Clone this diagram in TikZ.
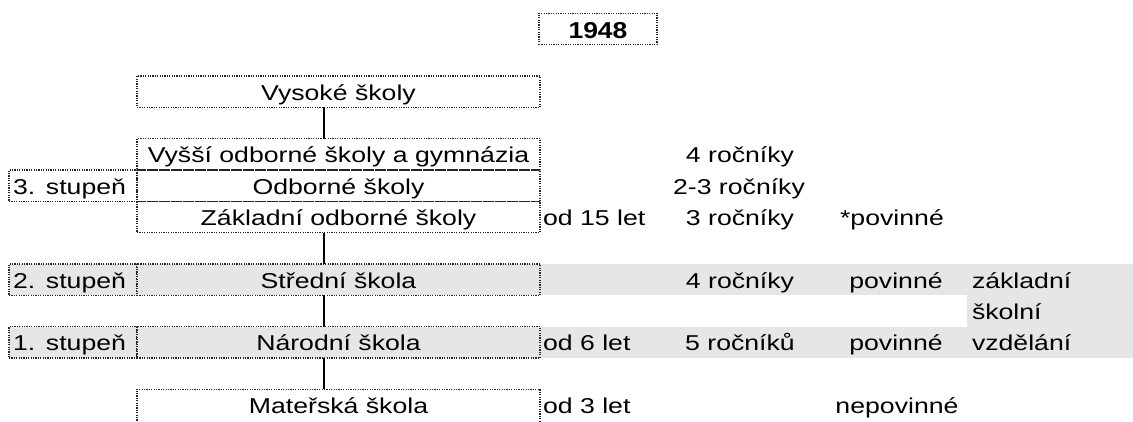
\documentclass[tikz,border=0pt]{standalone}
\usepackage{fontspec}
\setmainfont{Liberation Sans}[FakeStretch=1.24]
\newfontfamily\yearfont{Liberation Sans}[FakeStretch=1.15]
\definecolor{bandgray}{RGB}{230,230,230}
\begin{document}
\begin{tikzpicture}[x=1pt,y=-1pt,
  every node/.style={font=\fontsize{21.5}{26}\selectfont},
  border/.style={draw=black!85, line width=1.2pt, dash pattern=on 1.2pt off 1.2pt},
  cell/.style={border, inner sep=0pt, outer sep=0pt, minimum height=31.33pt,
    text height=20pt, text depth=3.33pt, anchor=north west},
  wide/.style={cell, minimum width=403pt},
  lab/.style={cell, minimum width=128pt, inner xsep=4pt, text width=120pt, align=left},
  txt/.style={inner sep=0pt, outer sep=0pt},
  conn/.style={line width=1.5pt}]
\useasboundingbox (0,0) rectangle (1133,421);
% shaded bands
\fill[bandgray] (9,264) rectangle (1133,295.3);
\fill[bandgray] (967,295.3) rectangle (1133,326.7);
\fill[bandgray] (9,326.7) rectangle (1133,358);
% year
\node[cell, minimum width=118pt, text height=22pt, text depth=3.33pt,
  font=\yearfont\fontsize{23}{27}\selectfont\bfseries] (year) at (539,13.3) {1948};
% boxes
\node[wide] (vys) at (137,76) {Vysoké školy};
\node[wide] (vyssi) at (137,138.7) {Vyšší odborné školy a gymnázia};
\node[lab] (st3) at (9,170) {3. stupeň};
\node[wide] (odb) at (137,170) {Odborné školy};
\node[wide] (zakl) at (137,201.3) {Základní odborné školy};
\node[lab, fill=bandgray] (st2) at (9,264) {2. stupeň};
\node[wide, fill=bandgray] (str) at (137,264) {Střední škola};
\node[lab, fill=bandgray] (st1) at (9,326.7) {1. stupeň};
\node[wide, fill=bandgray] (nar) at (137,326.7) {Národní škola};
\node[wide, draw=none] (mat) at (137,389.3) {Mateřská škola};
\draw[border] (mat.south west) -- (mat.north west) -- (mat.north east) -- (mat.south east);
% connectors
\coordinate (spine) at (324,0);
\draw[conn] (spine |- vys.south) -- (spine |- vyssi.north);
\draw[conn] (spine |- zakl.south) -- (spine |- str.north);
\draw[conn] (spine |- str.south) -- (spine |- nar.north);
\draw[conn] (spine |- nar.south) -- (spine |- mat.north);
% right-hand columns
\node[txt, anchor=base] (y4a) at (740,162.7) {4 ročníky};
\node[txt, anchor=base] (y23) at (739,194) {2-3 ročníky};
\node[txt, anchor=base west] (age15) at (543,225.3) {od 15 let};
\node[txt, anchor=base] (y3) at (740,225.3) {3 ročníky};
\node[txt, anchor=base] (pov0) at (892,225.3) {*povinné};
\node[txt, anchor=base] (y4b) at (740,288) {4 ročníky};
\node[txt, anchor=base] (pov1) at (896,288) {povinné};
\node[txt, anchor=base west] (z1) at (972,288) {základní};
\node[txt, anchor=base west] (z2) at (972,319.3) {školní};
\node[txt, anchor=base west] (age6) at (543,350.7) {od 6 let};
\node[txt, anchor=base] (y5) at (740,350.7) {5 ročníků};
\node[txt, anchor=base] (pov2) at (896,350.7) {povinné};
\node[txt, anchor=base west] (z3) at (972,350.7) {vzdělání};
\node[txt, anchor=base west] (age3) at (543,413.3) {od 3 let};
\node[txt, anchor=base] (nepov) at (897,413.3) {nepovinné};
\end{tikzpicture}
\end{document}
